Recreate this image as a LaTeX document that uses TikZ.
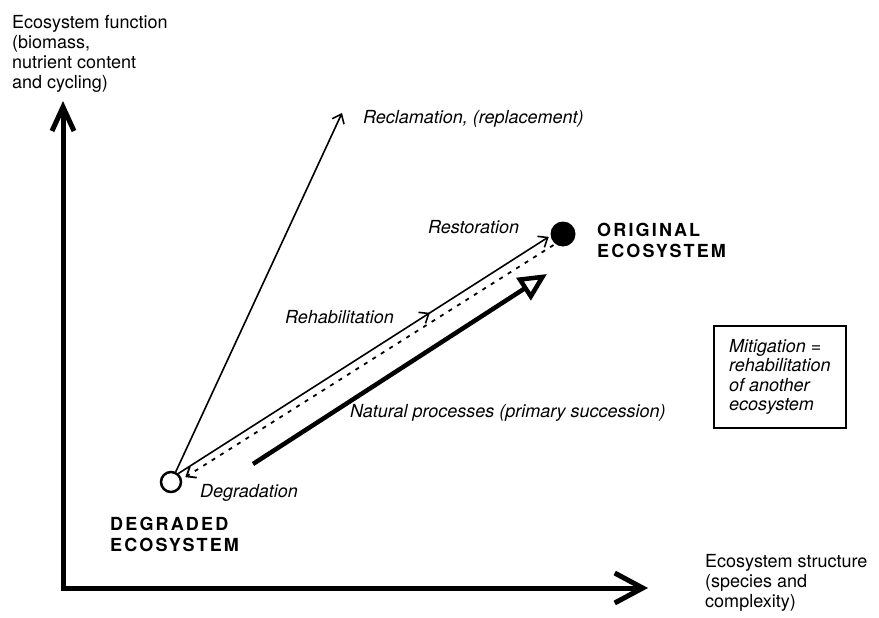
\documentclass[tikz,border=0pt]{standalone}
\usepackage{fontspec}
\setmainfont{TeX Gyre Heros}
\usetikzlibrary{arrows.meta,decorations.markings}
\begin{document}
\begin{tikzpicture}[x=1pt,y=-1pt,
  lbl/.style={inner sep=0pt, font=\fontsize{18}{20}\selectfont},
  ital/.style={inner sep=0pt, font=\fontsize{18}{19.5}\selectfont\itshape},
  caps/.style={inner sep=0pt, align=left, font=\fontsize{18}{20.5}\selectfont\bfseries\addfontfeature{LetterSpace=12}},
  thin/.style={line width=1.6pt},
  barb/.tip={Straight Barb[length=8pt,width=13pt]},
  axis/.style={line width=5pt, line join=miter},
  midarrow/.style={postaction={decorate, decoration={markings, mark=at position #1 with {\arrow{barb}}}}}
]
\useasboundingbox (0,0) rectangle (879,618);

% axes
\coordinate (ytip) at (63,101);
\coordinate (corner) at (63,588);
\coordinate (xtip) at (648,588);
\draw[axis, {Straight Barb[length=24pt,width=22pt]}-{Straight Barb[length=28pt,width=30pt]}] (ytip) -- (corner) -- (xtip);

\node[lbl, align=left, anchor=north west] (ylab) at (12,15) {Ecosystem function\\(biomass,\\nutrient content\\and cycling)};
\node[lbl, align=left, anchor=north west] (xlab) at (705,554) {Ecosystem structure\\(species and\\complexity)};

% ecosystems
\node[circle, draw, line width=2.5pt, fill=white, minimum size=20pt, inner sep=0pt] (deg) at (171,482) {};
\node[circle, fill=black, minimum size=25pt, inner sep=0pt] (orig) at (563,234) {};

\node[caps, anchor=north west] (degl) at (110,517) {DEGRADED\\ECOSYSTEM};
\node[caps, anchor=north west] (origl) at (597,223) {ORIGINAL\\ECOSYSTEM};

% reclamation
\coordinate (recl) at (342,113);
\draw[thin, -barb] (deg.65) -- (recl);
\node[ital, anchor=base west] (recllbl) at (363,124) {Reclamation, (replacement)};

% rehabilitation / restoration
\draw[thin, -barb, midarrow=0.676, shorten >=2pt] (deg.49) -- (orig.188);
\node[ital, anchor=base west] (rehablbl) at (285,323) {Rehabilitation};
\node[ital, anchor=base west] (restlbl) at (428,233) {Restoration};

% degradation (dotted)
\draw[line width=1.8pt, dash pattern=on 4pt off 6pt, -{Straight Barb[length=8pt,width=13pt]}, shorten >=4pt, shorten <=2pt] (orig.232) -- (deg.14);
\node[ital, anchor=base west] (deglbl) at (200,497) {Degradation};

% natural processes
\coordinate (natA) at (253,464);
\coordinate (natB) at (547,274);
\draw[line width=4.5pt, -{Triangle[open, length=28pt, width=26pt]}] (natA) -- (natB);
\node[ital, anchor=base west] (natlbl) at (350,417) {Natural processes (primary succession)};

% mitigation box
\node[draw, thin, ital, align=left, minimum width=132pt, minimum height=102pt, anchor=north west] (mit) at (713,325) {Mitigation =\\rehabilitation\\of another\\ecosystem};
\end{tikzpicture}
\end{document}
